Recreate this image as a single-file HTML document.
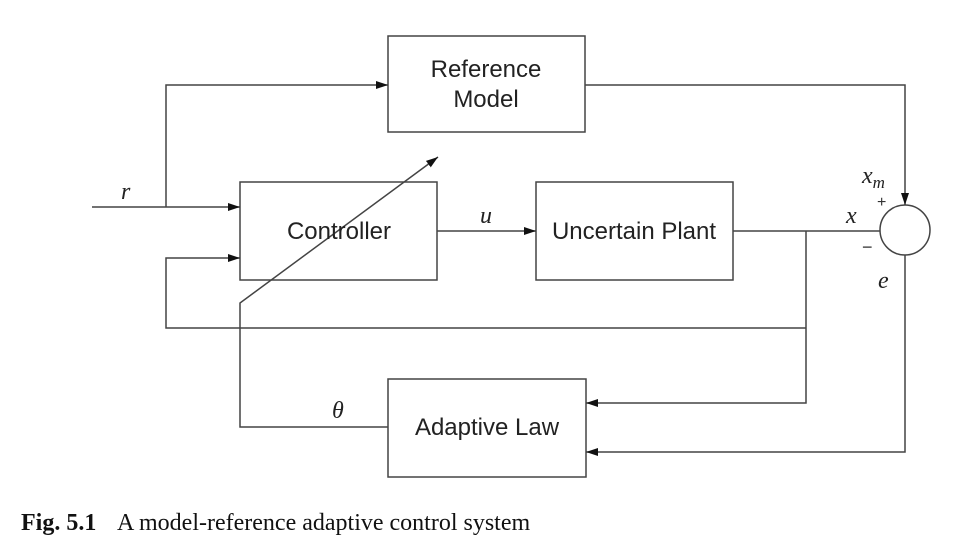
<!DOCTYPE html>
<html><head><meta charset="utf-8"><style>
html,body{margin:0;padding:0;background:#fff;width:971px;height:554px;overflow:hidden}
svg{display:block}
.b{font-family:"Liberation Sans",sans-serif;font-size:24px;fill:#222}
.m{font-family:"Liberation Serif",serif;font-style:italic;font-size:24px;fill:#222}
</style></head><body>
<svg width="971" height="554" viewBox="0 0 971 554" xmlns="http://www.w3.org/2000/svg">
<defs><marker id="a" markerWidth="12" markerHeight="8" refX="12" refY="4" orient="auto" markerUnits="userSpaceOnUse"><path d="M0,0 L12,4 L0,8 z" fill="#111"/></marker></defs>
<g fill="none" stroke="#444" stroke-width="1.5">
<rect x="388" y="36" width="197" height="96"/>
<rect x="240" y="182" width="197" height="98"/>
<rect x="536" y="182" width="197" height="98"/>
<rect x="388" y="379" width="198" height="98"/>
<circle cx="905" cy="230" r="25"/>
<path d="M92,207 H240" marker-end="url(#a)"/>
<path d="M166,207 V85 H388" marker-end="url(#a)"/>
<path d="M585,85 H905 V205" marker-end="url(#a)"/>
<path d="M437,231 H536" marker-end="url(#a)"/>
<path d="M733,231 H880"/>
<path d="M806,231 V403 H586" marker-end="url(#a)"/>
<path d="M806,328 H166 V258 H240" marker-end="url(#a)"/>
<path d="M905,255 V452 H586" marker-end="url(#a)"/>
<path d="M388,427 H240 V303 L438,157" marker-end="url(#a)"/>
</g>
<text class="b" x="486" y="77" text-anchor="middle">Reference</text>
<text class="b" x="486" y="107" text-anchor="middle">Model</text>
<text class="b" x="339" y="239" text-anchor="middle">Controller</text>
<text class="b" x="634" y="239" text-anchor="middle">Uncertain Plant</text>
<text class="b" x="487" y="435" text-anchor="middle">Adaptive Law</text>
<text class="m" x="121" y="199">r</text>
<text class="m" x="480" y="223">u</text>
<text class="m" x="332" y="418">θ</text>
<text class="m" x="846" y="223">x</text>
<text class="m" x="862" y="183">x<tspan font-size="17" dy="5">m</tspan></text>
<text class="m" x="878" y="288">e</text>
<text x="877" y="207" font-family="Liberation Sans,sans-serif" font-size="16" fill="#333">+</text>
<text x="862" y="253" font-family="Liberation Sans,sans-serif" font-size="18" fill="#333">−</text>
<text x="21" y="530" font-family="Liberation Serif,serif" font-size="24" fill="#111"><tspan font-weight="bold">Fig. 5.1</tspan><tspan x="117">A model-reference adaptive control system</tspan></text>
</svg>
</body></html>
